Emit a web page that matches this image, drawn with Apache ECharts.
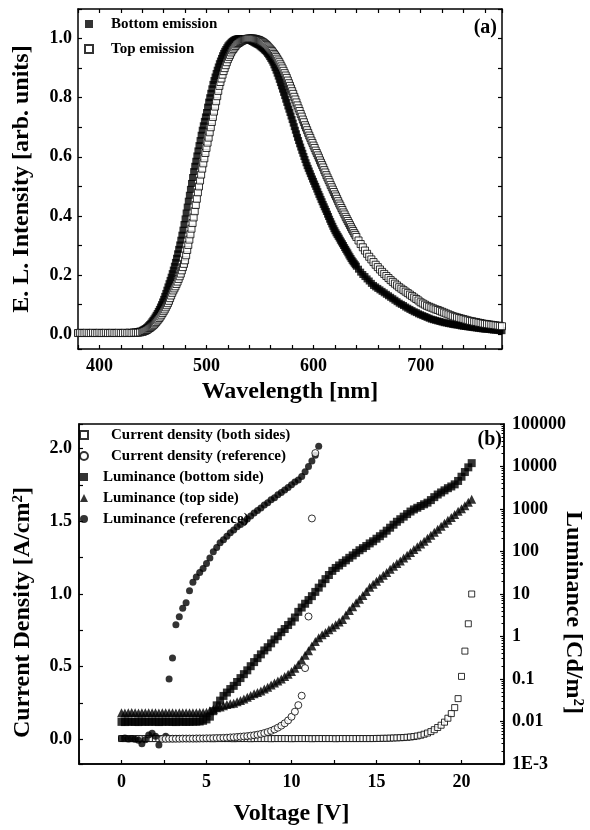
<!DOCTYPE html>
<html>
<head>
<meta charset="utf-8">
<title>EL spectra and J-V-L</title>
<script src="https://cdn.jsdelivr.net/npm/echarts@6.0.0/dist/echarts.min.js"></script>
<style>
  html, body { margin: 0; padding: 0; background: #fff; }
  #chart { width: 590px; height: 830px; }
</style>
</head>
<body>
<div id="chart"></div>
<script>
// (a) EL spectra: 2 nm steps on the flat parts, 1 nm on the steep parts
const wavelengths = [
  380, 382, 384, 386, 388, 390, 392, 394, 396, 398,
  400, 402, 404, 406, 408, 410, 412, 414, 416, 418,
  420, 422, 424, 426, 428, 430, 432, 434, 436, 438,
  440, 441, 442, 443, 444, 445, 446, 447, 448, 449,
  450, 451, 452, 453, 454, 455, 456, 457, 458, 459,
  460, 461, 462, 463, 464, 465, 466, 467, 468, 469,
  470, 471, 472, 473, 474, 475, 476, 477, 478, 479,
  480, 481, 482, 483, 484, 485, 486, 487, 488, 489,
  490, 491, 492, 493, 494, 495, 496, 497, 498, 499,
  500, 501, 502, 503, 504, 505, 506, 507, 508, 509,
  510, 511, 512, 513, 514, 515, 516, 517, 518, 519,
  520, 521, 522, 523, 524, 525, 526, 527, 528, 529,
  530, 531, 532, 533, 534, 535, 536, 537, 538, 539,
  540, 541, 542, 543, 544, 545, 546, 547, 548, 549,
  550, 551, 552, 553, 554, 555, 556, 557, 558, 559,
  560, 561, 562, 563, 564, 565, 566, 567, 568, 569,
  570, 571, 572, 573, 574, 575, 576, 577, 578, 579,
  580, 581, 582, 583, 584, 585, 586, 587, 588, 589,
  590, 591, 592, 593, 594, 595, 596, 597, 598, 599,
  600, 601, 602, 603, 604, 605, 606, 607, 608, 609,
  610, 611, 612, 613, 614, 615, 616, 617, 618, 619,
  620, 621, 622, 623, 624, 625, 626, 627, 628, 629,
  630, 631, 632, 633, 634, 635, 636, 637, 638, 639,
  640, 642, 644, 646, 648, 650, 652, 654, 656, 658,
  660, 662, 664, 666, 668, 670, 672, 674, 676, 678,
  680, 682, 684, 686, 688, 690, 692, 694, 696, 698,
  700, 702, 704, 706, 708, 710, 712, 714, 716, 718,
  720, 722, 724, 726, 728, 730, 732, 734, 736, 738,
  740, 742, 744, 746, 748, 750, 752, 754, 756, 758,
  760, 762, 764, 766, 768, 770, 772, 774, 776
];

const bottomEmission = [
  0.004, 0.004, 0.005, 0.004, 0.004, 0.005, 0.004, 0.004, 0.005, 0.004,
  0.004, 0.005, 0.004, 0.004, 0.005, 0.004, 0.004, 0.005, 0.004, 0.005,
  0.004, 0.005, 0.005, 0.005, 0.006, 0.006, 0.007, 0.008, 0.009, 0.011,
  0.013, 0.015, 0.017, 0.019, 0.022, 0.025, 0.029, 0.033, 0.037, 0.042,
  0.047, 0.052, 0.058, 0.064, 0.07, 0.077, 0.084, 0.092, 0.1, 0.109,
  0.118, 0.128, 0.138, 0.149, 0.16, 0.171, 0.182, 0.193, 0.205, 0.217,
  0.23, 0.243, 0.257, 0.272, 0.287, 0.302, 0.318, 0.335, 0.352, 0.371,
  0.39, 0.41, 0.43, 0.45, 0.47, 0.49, 0.51, 0.53, 0.55, 0.568,
  0.585, 0.603, 0.62, 0.638, 0.655, 0.673, 0.69, 0.705, 0.72, 0.735,
  0.75, 0.768, 0.785, 0.8, 0.815, 0.83, 0.845, 0.858, 0.87, 0.882,
  0.893, 0.904, 0.915, 0.924, 0.933, 0.942, 0.95, 0.957, 0.963, 0.969,
  0.975, 0.979, 0.983, 0.987, 0.99, 0.993, 0.995, 0.997, 0.998, 0.999,
  1.0, 1.0, 1.0, 1.0, 1.0, 1.0, 1.0, 0.999, 0.998, 0.997,
  0.995, 0.994, 0.992, 0.99, 0.988, 0.986, 0.984, 0.982, 0.98, 0.978,
  0.975, 0.972, 0.969, 0.966, 0.962, 0.959, 0.955, 0.95, 0.945, 0.939,
  0.933, 0.927, 0.92, 0.911, 0.902, 0.893, 0.883, 0.873, 0.862, 0.851,
  0.84, 0.829, 0.818, 0.807, 0.795, 0.784, 0.772, 0.761, 0.75, 0.738,
  0.726, 0.714, 0.702, 0.69, 0.678, 0.666, 0.655, 0.644, 0.633, 0.622,
  0.612, 0.601, 0.591, 0.58, 0.57, 0.561, 0.552, 0.543, 0.534, 0.525,
  0.517, 0.508, 0.5, 0.491, 0.482, 0.473, 0.465, 0.456, 0.448, 0.439,
  0.431, 0.423, 0.415, 0.406, 0.398, 0.389, 0.381, 0.373, 0.365, 0.357,
  0.35, 0.343, 0.337, 0.331, 0.325, 0.318, 0.312, 0.306, 0.3, 0.293,
  0.287, 0.281, 0.275, 0.268, 0.262, 0.256, 0.25, 0.245, 0.24, 0.235,
  0.23, 0.22, 0.21, 0.202, 0.195, 0.187, 0.18, 0.172, 0.165, 0.16,
  0.155, 0.15, 0.145, 0.14, 0.135, 0.13, 0.125, 0.12, 0.115, 0.11,
  0.105, 0.101, 0.097, 0.092, 0.088, 0.084, 0.08, 0.076, 0.073, 0.069,
  0.066, 0.063, 0.06, 0.057, 0.054, 0.051, 0.049, 0.047, 0.045, 0.043,
  0.041, 0.039, 0.038, 0.036, 0.035, 0.033, 0.032, 0.031, 0.03, 0.028,
  0.027, 0.026, 0.025, 0.024, 0.023, 0.022, 0.021, 0.02, 0.019, 0.018,
  0.017, 0.017, 0.016, 0.015, 0.014, 0.014, 0.013, 0.012, 0.012
];

const topEmission = [
  0.004, 0.005, 0.004, 0.004, 0.005, 0.004, 0.004, 0.005, 0.004, 0.004,
  0.005, 0.004, 0.004, 0.005, 0.004, 0.004, 0.005, 0.004, 0.004, 0.005,
  0.004, 0.004, 0.005, 0.004, 0.005, 0.004, 0.005, 0.005, 0.005, 0.006,
  0.008, 0.009, 0.011, 0.012, 0.014, 0.016, 0.019, 0.021, 0.024, 0.027,
  0.03, 0.033, 0.037, 0.041, 0.046, 0.05, 0.055, 0.06, 0.066, 0.072,
  0.078, 0.084, 0.091, 0.098, 0.105, 0.113, 0.122, 0.131, 0.14, 0.148,
  0.155, 0.162, 0.17, 0.178, 0.187, 0.196, 0.205, 0.216, 0.227, 0.238,
  0.25, 0.267, 0.285, 0.302, 0.32, 0.338, 0.357, 0.376, 0.395, 0.416,
  0.437, 0.458, 0.48, 0.5, 0.52, 0.54, 0.56, 0.578, 0.595, 0.613,
  0.63, 0.648, 0.665, 0.683, 0.7, 0.718, 0.735, 0.753, 0.77, 0.788,
  0.805, 0.823, 0.84, 0.853, 0.865, 0.878, 0.89, 0.9, 0.91, 0.92,
  0.93, 0.938, 0.945, 0.953, 0.96, 0.965, 0.97, 0.975, 0.98, 0.983,
  0.985, 0.988, 0.99, 0.992, 0.994, 0.996, 0.997, 0.998, 0.999, 1.0,
  1.0, 1.0, 1.0, 1.0, 1.0, 0.999, 0.998, 0.997, 0.996, 0.995,
  0.993, 0.991, 0.989, 0.987, 0.984, 0.981, 0.978, 0.974, 0.97, 0.966,
  0.962, 0.958, 0.953, 0.948, 0.943, 0.938, 0.932, 0.926, 0.92, 0.913,
  0.906, 0.899, 0.891, 0.883, 0.875, 0.867, 0.858, 0.849, 0.84, 0.831,
  0.822, 0.813, 0.803, 0.794, 0.784, 0.774, 0.764, 0.755, 0.745, 0.736,
  0.726, 0.717, 0.707, 0.699, 0.69, 0.681, 0.672, 0.664, 0.655, 0.647,
  0.638, 0.63, 0.621, 0.613, 0.605, 0.597, 0.588, 0.58, 0.572, 0.564,
  0.555, 0.547, 0.538, 0.53, 0.522, 0.514, 0.505, 0.497, 0.489, 0.481,
  0.473, 0.466, 0.458, 0.45, 0.442, 0.435, 0.427, 0.42, 0.412, 0.405,
  0.397, 0.39, 0.383, 0.376, 0.369, 0.362, 0.355, 0.349, 0.342, 0.336,
  0.329, 0.317, 0.305, 0.294, 0.283, 0.272, 0.262, 0.253, 0.244, 0.235,
  0.227, 0.219, 0.211, 0.204, 0.197, 0.19, 0.183, 0.177, 0.171, 0.165,
  0.159, 0.154, 0.149, 0.144, 0.139, 0.134, 0.129, 0.124, 0.119, 0.114,
  0.108, 0.104, 0.1, 0.096, 0.093, 0.09, 0.087, 0.084, 0.082, 0.079,
  0.076, 0.073, 0.07, 0.067, 0.064, 0.061, 0.059, 0.057, 0.055, 0.053,
  0.051, 0.049, 0.047, 0.045, 0.044, 0.042, 0.041, 0.039, 0.038, 0.036,
  0.035, 0.034, 0.033, 0.032, 0.031, 0.03, 0.029, 0.028, 0.027
];

// (b) J-V-L, sampled every 0.2 V
const volts = [
  0, 0.2, 0.4, 0.6, 0.8, 1.0, 1.2, 1.4, 1.6, 1.8,
  2.0, 2.2, 2.4, 2.6, 2.8, 3.0, 3.2, 3.4, 3.6, 3.8,
  4.0, 4.2, 4.4, 4.6, 4.8, 5.0, 5.2, 5.4, 5.6, 5.8,
  6.0, 6.2, 6.4, 6.6, 6.8, 7.0, 7.2, 7.4, 7.6, 7.8,
  8.0, 8.2, 8.4, 8.6, 8.8, 9.0, 9.2, 9.4, 9.6, 9.8,
  10.0, 10.2, 10.4, 10.6, 10.8, 11.0, 11.2, 11.4, 11.6, 11.8,
  12.0, 12.2, 12.4, 12.6, 12.8, 13.0, 13.2, 13.4, 13.6, 13.8,
  14.0, 14.2, 14.4, 14.6, 14.8, 15.0, 15.2, 15.4, 15.6, 15.8,
  16.0, 16.2, 16.4, 16.6, 16.8, 17.0, 17.2, 17.4, 17.6, 17.8,
  18.0, 18.2, 18.4, 18.6, 18.8, 19.0, 19.2, 19.4, 19.6, 19.8,
  20.0, 20.2, 20.4, 20.6
];

// current density, both sides [A/cm2], 0 .. 20.6 V
const jBoth = [
  0.005, 0.005, 0.005, 0.004, 0.005, 0.005, 0.004, 0.005, 0.005, 0.005,
  0.005, 0.004, 0.005, 0.005, 0.005, 0.004, 0.005, 0.005, 0.005, 0.005,
  0.005, 0.005, 0.004, 0.005, 0.005, 0.005, 0.005, 0.004, 0.005, 0.005,
  0.005, 0.005, 0.005, 0.004, 0.005, 0.005, 0.005, 0.005, 0.004, 0.005,
  0.005, 0.005, 0.005, 0.005, 0.004, 0.005, 0.005, 0.005, 0.005, 0.005,
  0.004, 0.005, 0.005, 0.005, 0.005, 0.005, 0.004, 0.005, 0.005, 0.005,
  0.005, 0.005, 0.005, 0.004, 0.005, 0.005, 0.005, 0.005, 0.005, 0.005,
  0.005, 0.005, 0.005, 0.005, 0.005, 0.006, 0.006, 0.007, 0.007, 0.008,
  0.009, 0.01, 0.011, 0.012, 0.014, 0.016, 0.019, 0.023, 0.028, 0.035,
  0.043, 0.053, 0.066, 0.081, 0.097, 0.118, 0.145, 0.177, 0.218, 0.28,
  0.433, 0.607, 0.795, 1.0
];

// current density, reference [A/cm2], 2.4 .. 11.4 V
const jRefStart = 12;
const jRef = [
  0.003, 0.003, 0.004, 0.004, 0.004, 0.004, 0.005, 0.005, 0.005, 0.005,
  0.006, 0.006, 0.006, 0.007, 0.007, 0.008, 0.009, 0.009, 0.01, 0.011,
  0.013, 0.014, 0.016, 0.018, 0.02, 0.022, 0.025, 0.028, 0.032, 0.037,
  0.043, 0.05, 0.058, 0.068, 0.08, 0.094, 0.11, 0.13, 0.155, 0.19,
  0.235, 0.3, 0.49, 0.845, 1.52, 1.97
];

// luminance [Cd/m2]
const lumBottom = [
  0.0098, 0.0097, 0.0099, 0.0098, 0.0098, 0.0097, 0.0099, 0.0098, 0.0098, 0.0099,
  0.0098, 0.0097, 0.0098, 0.0099, 0.0098, 0.0098, 0.0097, 0.0099, 0.0098, 0.0098,
  0.0098, 0.0099, 0.0099, 0.01, 0.0104, 0.0112, 0.013, 0.0175, 0.024, 0.031,
  0.04, 0.048, 0.058, 0.069, 0.085, 0.105, 0.13, 0.16, 0.2, 0.25,
  0.31, 0.38, 0.47, 0.56, 0.69, 0.85, 1.02, 1.26, 1.5, 1.86,
  2.24, 2.8, 3.8, 4.8, 5.9, 7.2, 8.9, 11.2, 14.1, 17.8,
  22.4, 28, 35, 41, 47, 54, 62, 71, 81, 93,
  107, 120, 135, 155, 174, 200, 229, 263, 309, 363,
  427, 501, 575, 661, 759, 871, 977, 1070, 1175, 1290,
  1410, 1620, 1900, 2190, 2450, 2750, 3090, 3390, 3800, 4570,
  5750, 7410, 9550, 12000
];

const lumTop = [
  0.016, 0.0158, 0.016, 0.0162, 0.016, 0.0159, 0.016, 0.016, 0.0161, 0.016,
  0.016, 0.0159, 0.016, 0.016, 0.0161, 0.016, 0.0159, 0.016, 0.016, 0.016,
  0.016, 0.0161, 0.016, 0.0162, 0.0163, 0.0165, 0.018, 0.0195, 0.021, 0.022,
  0.0235, 0.025, 0.026, 0.027, 0.029, 0.031, 0.034, 0.037, 0.041, 0.045,
  0.048, 0.052, 0.058, 0.064, 0.072, 0.08, 0.09, 0.1, 0.115, 0.13,
  0.15, 0.18, 0.22, 0.28, 0.36, 0.46, 0.6, 0.76, 0.93, 1.1,
  1.25, 1.45, 1.65, 1.9, 2.2, 2.5, 3.2, 4.1, 5.0, 6.2,
  7.5, 9.2, 11.5, 14.5, 17, 20, 23.5, 27.5, 32, 38,
  45, 52, 60, 70, 82, 95, 112, 130, 150, 175,
  205, 240, 285, 335, 395, 460, 540, 630, 740, 880,
  1020, 1200, 1450, 1700
];

// reference device, 0 .. 11.6 V
const lumRef = [
  0.004, 0.0041, 0.0039, 0.004, 0.0038, 0.0036, 0.003, 0.0037, 0.0048, 0.0053,
  0.0045, 0.0028, 0.004, 0.0045, 0.1, 0.31, 1.9, 2.9, 4.6, 6.2,
  12, 19, 25, 32, 40, 52, 70, 99, 125, 160,
  190, 230, 275, 320, 380, 430, 500, 580, 680, 800,
  920, 1050, 1250, 1400, 1650, 1850, 2150, 2450, 2800, 3200,
  3700, 4300, 4800, 5800, 7500, 10000, 13500, 18500, 30000
];

const lumTickLabels = ['1E-3', '0.01', '0.1', '1', '10', '100', '1000', '10000', '100000'];

const FONT = '"Liberation Serif", "Times New Roman", serif';

function pairs(xs, ys, offset) {
  const o = offset || 0;
  return ys.map((y, i) => [xs[i + o], y]);
}

function isStep(v, step) {
  const k = v / step;
  return Math.abs(k - Math.round(k)) < 1e-6;
}

const labelStyle = { color: '#000', fontFamily: FONT, fontWeight: 'bold', fontSize: 18 };
const nameStyle = { color: '#000', fontFamily: FONT, fontWeight: 'bold', fontSize: 24 };
const lineStyle = { color: '#000', width: 1.5 };
const tickStyle = { show: true, inside: true, length: 4, lineStyle: { color: '#000', width: 1.2 } };
const legendText = { color: '#000', fontFamily: FONT, fontWeight: 'bold', fontSize: 15, lineHeight: 16 };

function baseAxis(extra) {
  return Object.assign({
    axisLine: { show: true, onZero: false, lineStyle: lineStyle },
    axisTick: tickStyle,
    splitLine: { show: false },
    axisLabel: Object.assign({}, labelStyle)
  }, extra);
}

const supRich = {
  n: { fontFamily: FONT, fontWeight: 'bold', fontSize: 24, color: '#000' },
  s: { fontFamily: FONT, fontWeight: 'bold', fontSize: 15, color: '#000', verticalAlign: 'top' }
};

const chart = echarts.init(document.getElementById('chart'));

const option = {
  animation: false,
  backgroundColor: '#fff',
  grid: [
    { left: 78, top: 9, width: 424, height: 340, show: false, outerBoundsMode: 'none' },
    { left: 79, top: 424, width: 425, height: 340, show: true, borderColor: '#000', borderWidth: 1.5, outerBoundsMode: 'none' }
  ],
  xAxis: [
    baseAxis({
      gridIndex: 0, type: 'value', position: 'bottom', min: 380, max: 776, interval: 20,
      name: 'Wavelength [nm]', nameLocation: 'middle', nameGap: 31, nameTextStyle: nameStyle,
      axisLabel: Object.assign({}, labelStyle, { margin: 8, formatter: v => (isStep(v, 100) ? String(v) : '') })
    }),
    baseAxis({
      gridIndex: 0, type: 'value', position: 'top', min: 380, max: 776, interval: 20,
      axisLabel: { show: false }
    }),
    baseAxis({
      gridIndex: 1, type: 'value', position: 'bottom', min: -2.5, max: 22.5, interval: 2.5,
      name: 'Voltage [V]', nameLocation: 'middle', nameGap: 38, nameTextStyle: nameStyle,
      axisLabel: Object.assign({}, labelStyle, { margin: 9, formatter: v => (isStep(v, 5) ? String(Math.round(v)) : '') })
    })
  ],
  yAxis: [
    baseAxis({
      gridIndex: 0, type: 'value', position: 'left', min: -0.05, max: 1.1, minInterval: 0.1, maxInterval: 0.1,
      name: 'E. L. Intensity [arb. units]', nameLocation: 'middle', nameRotate: 90, nameGap: 44, nameTextStyle: nameStyle,
      axisLabel: Object.assign({}, labelStyle, { margin: 6, formatter: v => (isStep(v, 0.2) ? v.toFixed(1) : '') })
    }),
    baseAxis({
      gridIndex: 0, type: 'value', position: 'right', min: -0.05, max: 1.1, minInterval: 0.1, maxInterval: 0.1,
      axisLabel: { show: false }
    }),
    baseAxis({
      gridIndex: 1, type: 'value', position: 'left', min: -0.17, max: 2.17, minInterval: 0.25, maxInterval: 0.25,
      name: '{n|Current Density [A/cm}{s|2}{n|]}', nameLocation: 'middle', nameRotate: 90, nameGap: 44,
      nameTextStyle: Object.assign({}, nameStyle, { rich: supRich, padding: [0, 37, 0, 0] }),
      axisLabel: Object.assign({}, labelStyle, { margin: 7, formatter: v => (isStep(v, 0.5) ? v.toFixed(1) : '') })
    }),
    baseAxis({
      gridIndex: 1, type: 'log', logBase: 10, position: 'right', min: 0.001, max: 100000,
      name: '{n|Luminance [Cd/m}{s|2}{n|]}', nameLocation: 'middle', nameRotate: -90, nameGap: 57,
      nameMoveOverlap: false,
      nameTextStyle: Object.assign({}, nameStyle, { rich: supRich, padding: [0, 0, 0, 37] }),
      minorTick: { show: true, splitNumber: 9, length: 2.5, lineStyle: { color: '#000', width: 1 } },
      axisLabel: Object.assign({}, labelStyle, {
        margin: 8,
        formatter: v => lumTickLabels[Math.round(Math.log10(v)) + 3] || ''
      })
    })
  ],
  legend: [
    {
      data: ['Bottom emission', 'Top emission'],
      orient: 'vertical', left: 84, top: 16, padding: 0,
      itemWidth: 8, itemHeight: 8, itemGap: 9, selectedMode: false,
      textStyle: Object.assign({}, legendText, { padding: [0, 0, 0, 13] })
    },
    {
      data: [
        { name: 'Current density (both sides)', textStyle: { padding: [0, 0, 0, 18] } },
        { name: 'Current density (reference)', textStyle: { padding: [0, 0, 0, 18] } },
        { name: 'Luminance (bottom side)', textStyle: { padding: [0, 0, 0, 10] } },
        { name: 'Luminance (top side)', textStyle: { padding: [0, 0, 0, 10] } },
        { name: 'Luminance (reference)', textStyle: { padding: [0, 0, 0, 10] } }
      ],
      orient: 'vertical', left: 79, top: 427, padding: 0,
      itemWidth: 8, itemHeight: 8, itemGap: 5, selectedMode: false,
      textStyle: legendText
    }
  ],
  graphic: [
    { type: 'text', x: 497, y: 28, style: { text: '(a)', fill: '#000', font: 'bold 20px "Liberation Serif"', align: 'right', verticalAlign: 'middle' } },
    { type: 'text', x: 502, y: 440, style: { text: '(b)', fill: '#000', font: 'bold 20px "Liberation Serif"', align: 'right', verticalAlign: 'middle' } }
  ],
  series: [
    {
      name: 'Bottom emission', type: 'scatter', xAxisIndex: 0, yAxisIndex: 0,
      symbol: 'rect', symbolSize: 7, itemStyle: { color: '#000' },
      data: pairs(wavelengths, bottomEmission)
    },
    {
      name: 'Top emission', type: 'scatter', xAxisIndex: 0, yAxisIndex: 0,
      symbol: 'rect', symbolSize: 7, itemStyle: { color: '#fff', borderColor: '#000', borderWidth: 1 },
      data: pairs(wavelengths, topEmission)
    },
    {
      name: 'Current density (both sides)', type: 'scatter', xAxisIndex: 2, yAxisIndex: 2,
      symbol: 'rect', symbolSize: 6, itemStyle: { color: '#fff', borderColor: '#000', borderWidth: 1 },
      data: pairs(volts, jBoth)
    },
    {
      name: 'Luminance (bottom side)', type: 'scatter', xAxisIndex: 2, yAxisIndex: 3,
      symbol: 'rect', symbolSize: 8, itemStyle: { color: '#000' },
      data: pairs(volts, lumBottom)
    },
    {
      name: 'Luminance (top side)', type: 'scatter', xAxisIndex: 2, yAxisIndex: 3,
      symbol: 'triangle', symbolSize: 9, itemStyle: { color: '#000' },
      data: pairs(volts, lumTop)
    },
    {
      name: 'Luminance (reference)', type: 'scatter', xAxisIndex: 2, yAxisIndex: 3,
      symbol: 'circle', symbolSize: 7, itemStyle: { color: '#000' },
      data: pairs(volts, lumRef)
    },
    {
      name: 'Current density (reference)', type: 'scatter', xAxisIndex: 2, yAxisIndex: 2,
      symbol: 'circle', symbolSize: 7, itemStyle: { color: '#fff', borderColor: '#000', borderWidth: 1 },
      data: pairs(volts, jRef, jRefStart)
    }
  ]
};

chart.setOption(option);
</script>
</body>
</html>
